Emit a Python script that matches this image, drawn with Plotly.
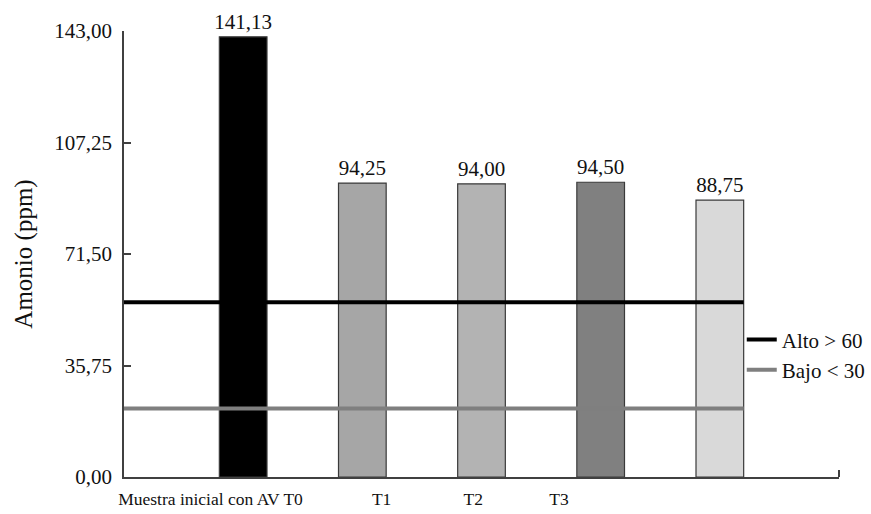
import plotly.graph_objects as go

# Ammonium concentration per sample (ppm)
samples = ["Muestra inicial con AV", "T0", "T1", "T2", "T3"]
amonio = [141.13, 94.25, 94.00, 94.50, 88.75]
bar_colors = ["#000000", "#a6a6a6", "#b3b3b3", "#808080", "#d9d9d9"]

# Reference thresholds
ref_names = ["Alto > 60", "Bajo < 30"]
ref_levels = [56.0, 22.0]
ref_colors = ["#000000", "#7f7f7f"]

# Axis labels
x_tick_text = ["Muestra inicial con AV T0", "T1", "T2", "T3"]
y_tick_vals = [0, 35.75, 71.5, 107.25, 143]

FONT = "Liberation Serif"
positions = list(range(len(samples)))

fig = go.Figure()

fig.add_trace(go.Bar(
    x=positions,
    y=amonio,
    width=0.4,
    marker=dict(color=bar_colors, line=dict(color="#3a3a3a", width=1.2)),
    texttemplate="%{y:.2f}",
    textposition="outside",
    constraintext="none",
    cliponaxis=False,
    textfont=dict(family=FONT, size=21, color="#111111"),
    showlegend=False,
    hoverinfo="skip",
))

line_end = positions[-1] + 0.2
for name, level, color in zip(ref_names, ref_levels, ref_colors):
    fig.add_trace(go.Scatter(
        x=[-1, line_end],
        y=[level, level],
        mode="lines",
        name=name,
        line=dict(color=color, width=4),
        hoverinfo="skip",
    ))

fig.update_layout(
    width=871,
    height=514,
    margin=dict(l=124, r=32, t=31, b=36.5, autoexpand=False),
    paper_bgcolor="white",
    plot_bgcolor="white",
    separators=",.",
    font=dict(family=FONT, color="#111111"),
    legend=dict(
        x=0.864, y=0.274, xanchor="left", yanchor="middle",
        bgcolor="rgba(0,0,0,0)",
        font=dict(family=FONT, size=21, color="#111111"),
        tracegroupgap=0,
    ),
)

fig.update_xaxes(
    range=[-1, 5],
    tickmode="array",
    tickvals=[-0.274, 1.162, 1.931, 2.650],
    ticktext=x_tick_text,
    ticks="",
    ticklabelstandoff=5,
    tickfont=dict(family=FONT, size=17.5, color="#111111"),
    showline=True, linecolor="#404040", linewidth=1.5,
    showgrid=False, zeroline=False,
    minor=dict(tickmode="array", tickvals=[5], ticks="inside", ticklen=7,
               tickcolor="#404040", tickwidth=1.5),
)

fig.update_yaxes(
    range=[0, 143],
    tickmode="array",
    tickvals=y_tick_vals,
    tickformat=".2f",
    ticks="inside", ticklen=7, tickcolor="#404040", tickwidth=1.5,
    ticklabelstandoff=6,
    tickfont=dict(family=FONT, size=21, color="#111111"),
    showline=True, linecolor="#404040", linewidth=1.5,
    showgrid=False, zeroline=False,
    title=dict(text="Amonio (ppm)", font=dict(family=FONT, size=25, color="#111111"),
               standoff=15),
)

fig.write_html("out.html")
